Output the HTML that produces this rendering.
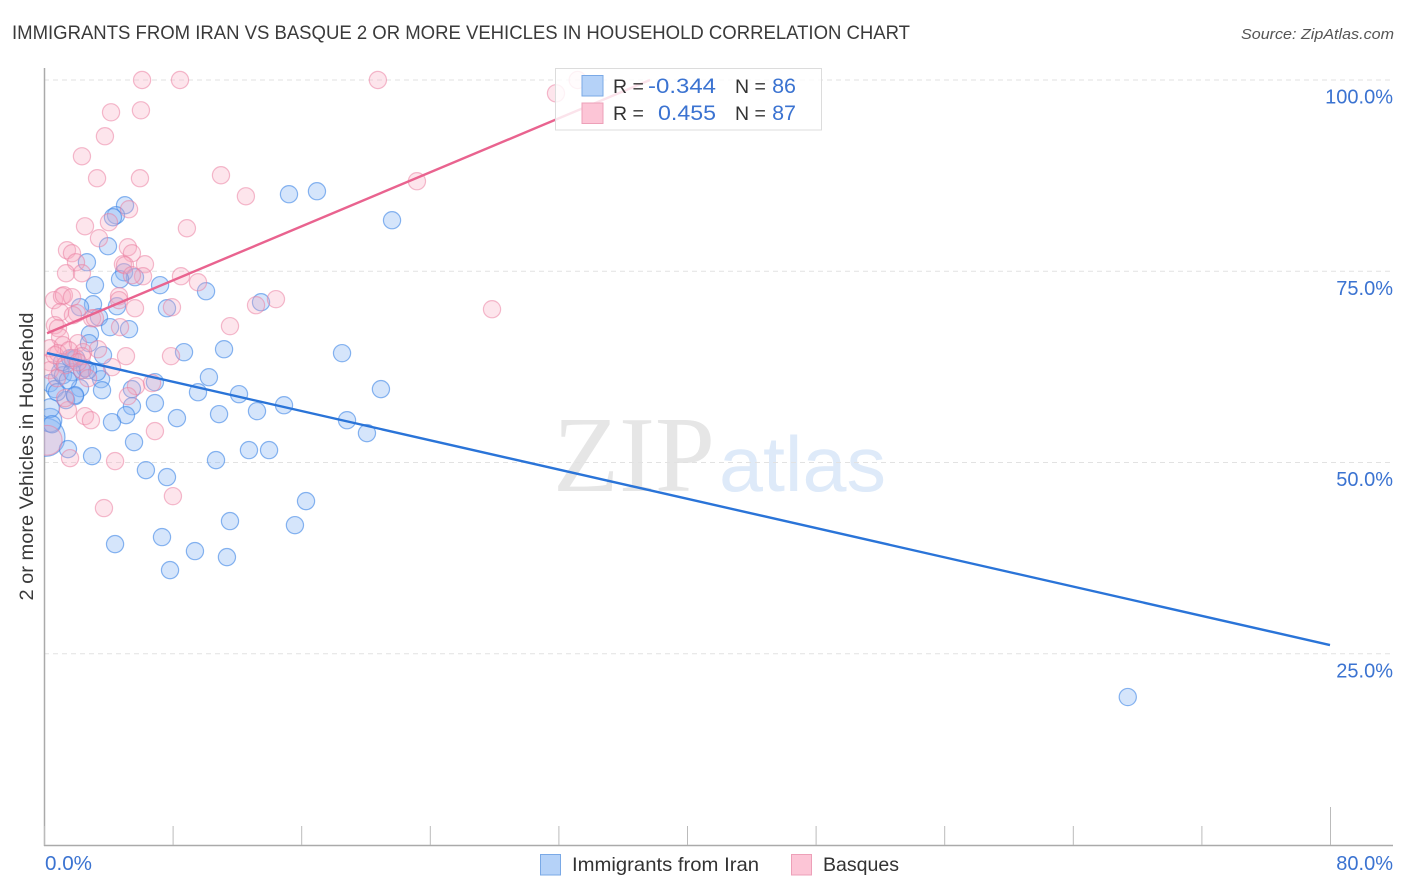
<!DOCTYPE html>
<html lang="en">
<head>
<meta charset="utf-8">
<title>Immigrants from Iran vs Basque 2 or more Vehicles in Household Correlation Chart</title>
<style>
html,body{margin:0;padding:0;background:#fff;}
svg{display:block;font-family:"Liberation Sans",Arial,sans-serif;}
</style>
</head>
<body>
<svg id="chart" xmlns="http://www.w3.org/2000/svg" width="1406" height="892" viewBox="0 0 1406 892">
  <defs><clipPath id="plot-clip"><rect x="44" y="60" width="1350" height="785"/></clipPath></defs>
  <text x="12" y="39" font-size="19.4" fill="#3a3a3a" textLength="898" lengthAdjust="spacingAndGlyphs">IMMIGRANTS FROM IRAN VS BASQUE 2 OR MORE VEHICLES IN HOUSEHOLD CORRELATION CHART</text>
  <text x="1394" y="39" font-size="15" font-style="italic" fill="#555" text-anchor="end" textLength="153" lengthAdjust="spacingAndGlyphs">Source: ZipAtlas.com</text>
  <text x="553" y="491" font-family="'Liberation Serif',serif" font-size="108" fill="#e6e6e6" textLength="162" lengthAdjust="spacingAndGlyphs">ZIP</text>
  <text x="719" y="491" font-size="78" fill="#deeaf9" textLength="167" lengthAdjust="spacingAndGlyphs">atlas</text>
  <g id="grid"></g>
  <g id="axes"></g>
  <g id="points" clip-path="url(#plot-clip)"></g>
  <g id="lines"></g>
  <text transform="translate(33,456.5) rotate(-90)" font-size="19" fill="#3a3a3a" text-anchor="middle" textLength="288" lengthAdjust="spacingAndGlyphs">2 or more Vehicles in Household</text>
  <g>
    <rect x="555.5" y="68.5" width="266" height="61.5" fill="#fff" fill-opacity="0.82" stroke="#dcdcdc"/>
    <rect x="582" y="75.500" width="21" height="20.500" fill="#b5d2f8" stroke="#7aa9e6"/>
    <rect x="582" y="103" width="21" height="20.500" fill="#fcc5d6" stroke="#eda0b8"/>
    <text x="613" y="93" font-size="19.500" fill="#333">R =</text>
    <text x="648" y="93" font-size="21.500" fill="#3b73d1" textLength="68" lengthAdjust="spacingAndGlyphs">-0.344</text>
    <text x="735" y="93" font-size="19.500" fill="#333">N =</text>
    <text x="796" y="93" font-size="21.500" fill="#3b73d1" text-anchor="end">86</text>
    <text x="613" y="120" font-size="19.500" fill="#333">R =</text>
    <text x="658" y="120" font-size="21.500" fill="#3b73d1" textLength="58" lengthAdjust="spacingAndGlyphs">0.455</text>
    <text x="735" y="120" font-size="19.500" fill="#333">N =</text>
    <text x="796" y="120" font-size="21.500" fill="#3b73d1" text-anchor="end">87</text>
  </g>
  <g>
    <rect x="540.500" y="854.500" width="20" height="20.500" fill="#b5d2f8" stroke="#7aa9e6"/>
    <text x="572" y="871" font-size="19.500" fill="#333" textLength="187" lengthAdjust="spacingAndGlyphs">Immigrants from Iran</text>
    <rect x="791.500" y="854.500" width="20" height="20.500" fill="#fcc5d6" stroke="#eda0b8"/>
    <text x="823" y="871" font-size="19.500" fill="#333" textLength="76" lengthAdjust="spacingAndGlyphs">Basques</text>
  </g>
</svg>
<script>
const xTickValues = [0, 8, 16, 24, 32, 40, 48, 56, 64, 72, 80];
const xEndLabels = ["0.0%", "80.0%"];
const yTickValues = [25, 50, 75, 100];
const yTickLabels = ["25.0%", "50.0%", "75.0%", "100.0%"];

const iranX = [0.12,0.37,0.37,0.5,5.04,4.48,4.29,3.98,2.67,3.17,4.98,5.66,4.73,7.22,10.08,3.05,2.24,4.54,7.65,13.5,3.42,4.11,5.29,2.86,2.8,3.67,8.71,11.2,18.54,10.26,9.58,12.13,6.9,5.47,3.55,3.61,6.9,5.47,5.1,4.23,8.27,10.89,13.25,14.93,5.6,2.99,1.49,10.7,12.75,14,6.34,7.65,16.3,11.57,15.61,7.34,4.42,9.39,11.38,7.84,20.96,18.85,20.09,67.42,15.24,16.98,21.65,0.37,0.68,1,1.18,1.8,2.36,2.24,1.93,1.37,1.12,1.99,2.55,0.81,1.74,1.49,3.3,1.62,2.74,1.93];
const iranY = [53.3,55.53,57.1,55,83.63,82.32,82.06,78.27,76.18,73.18,74.87,74.22,73.96,73.18,72.39,70.69,70.3,70.43,70.17,70.95,68.99,67.69,67.43,66.77,65.6,64.03,64.42,64.81,64.29,61.15,59.19,58.93,60.5,59.59,60.89,59.45,57.76,57.36,56.19,55.27,55.8,56.32,56.71,57.49,52.66,50.83,51.75,50.31,51.62,51.62,49,48.09,44.95,42.34,41.81,40.25,39.33,38.42,37.63,35.93,59.59,55.53,53.84,19.34,85.07,85.46,81.67,60.37,59.59,61.81,61.41,63.37,62.07,59.72,58.67,58.15,63.11,63.64,62.33,59.19,61.81,60.76,61.81,63.64,62.07,58.8];
const iranWeight = [4.9, 1.9, 1.2];

const basqueX = [0.2,6.1,8.46,20.77,33.2,31.85,4.17,6.03,3.79,2.36,3.3,5.97,11.01,23.2,12.56,5.29,4.04,2.55,8.89,3.42,1.43,1.74,5.22,5.47,1.99,6.28,4.91,5.04,1.37,2.36,6.16,5.47,8.52,9.58,14.43,0.62,1.12,1.24,1.74,4.67,4.67,5.66,7.96,13.19,27.87,11.57,1,2.05,2.99,3.17,1.8,0.68,0.87,1,0.37,1.18,2.11,3.36,2.43,4.73,5.1,7.9,4.23,2.36,0.37,0.87,0.37,1.8,5.72,5.22,6.72,6.9,2.55,2.92,4.42,1.62,3.73,8.02,1.49,0.68,1.31,2.36,1.55,2.11,1.31,0.81,2.74];
const basqueY = [52.9,100,100,100,100,98.26,95.78,96.04,92.65,90.03,87.16,87.16,87.55,86.77,84.8,83.11,81.41,80.88,80.62,79.32,77.75,77.36,78.14,77.36,76.18,75.92,75.92,75.79,74.74,74.74,74.35,74.48,74.35,73.57,71.35,71.22,71.74,71.87,71.61,71.74,71.22,70.17,70.3,70.56,70.04,67.82,69.65,69.52,68.86,68.86,69.26,67.95,67.56,66.38,64.94,65.34,65.6,64.81,64.42,67.69,63.9,63.9,62.46,62.07,63.11,64.29,62.07,63.64,59.98,58.67,60.37,54.1,56.06,55.53,50.18,50.57,44.04,45.6,56.84,64.03,62.72,63.9,64.68,63.11,58.41,61.02,61.02];
const basqueWeight = [3];

const iranTrendX = [0.19, 80];
const iranTrendY = [64.3, 26.14];
const basqueTrendX = [0.19, 37.7];
const basqueTrendY = [66.9, 100];

const NS = "http://www.w3.org/2000/svg";
const xScale = v => 44 + v * (1286 / 80);
const yScale = v => 845 - v * (765 / 100);
const rScale = w => 8.6 * Math.sqrt(w);

function make(tag, parent, attrs) {
  const el = document.createElementNS(NS, tag);
  for (const k in attrs) el.setAttribute(k, attrs[k]);
  parent.appendChild(el);
  return el;
}

const grid = document.getElementById("grid");
const axes = document.getElementById("axes");
const pointsG = document.getElementById("points");
const linesG = document.getElementById("lines");

yTickValues.forEach((v, i) => {
  const line = make("line", grid, {x1: 44, x2: 1393, y1: yScale(v), y2: yScale(v), stroke: "#e2e2e2", "stroke-dasharray": "5 4"});
  
  
  const label = make("text", axes, {x: 1393, y: yScale(v) + 23.5, "font-size": 20, fill: "#3b73d1", "text-anchor": "end"});
  label.textContent = yTickLabels[i];
  
  
});

const yAxis = make("line", axes, {x1: 44.5, x2: 44.5, y1: 68, y2: 846, stroke: "#aaa", "stroke-width": 1.5});


const xAxis = make("line", axes, {x1: 44, x2: 1393, y1: 845.5, y2: 845.5, stroke: "#aaa", "stroke-width": 1.5});



xTickValues.forEach((v, i) => {
  const isLast = i === xTickValues.length - 1;
  const tick = make("line", axes, {x1: xScale(v) + 0.5, x2: xScale(v) + 0.5, y1: isLast ? 807 : 826, y2: 845, stroke: "#bbb"});
  
  
});

const xLabel0 = make("text", axes, {x: 45, y: 870, "font-size": 20, fill: "#3b73d1", textLength: 47, lengthAdjust: "spacingAndGlyphs"});
xLabel0.textContent = xEndLabels[0];


const xLabel1 = make("text", axes, {x: 1393, y: 870, "font-size": 20, fill: "#3b73d1", "text-anchor": "end"});
xLabel1.textContent = xEndLabels[1];



iranX.forEach((v, i) => {
  const c = make("circle", pointsG, {cx: xScale(v), cy: yScale(iranY[i]), r: rScale(iranWeight[i] ?? 1), fill: "#8ab8f5", "fill-opacity": 0.36, stroke: "#3d85e6", "stroke-opacity": 0.6, "stroke-width": 1.2});
  
  
});
basqueX.forEach((v, i) => {
  const c = make("circle", pointsG, {cx: xScale(v), cy: yScale(basqueY[i]), r: rScale(basqueWeight[i] ?? 1), fill: "#f9a8c0", "fill-opacity": 0.3, stroke: "#ea7c9f", "stroke-opacity": 0.52, "stroke-width": 1.2});
  
  
});

const tBlue = make("line", linesG, {x1: xScale(iranTrendX[0]), y1: yScale(iranTrendY[0]), x2: xScale(iranTrendX[1]), y2: yScale(iranTrendY[1]), stroke: "#2a74d8", "stroke-width": 2.4});


const tPink = make("line", linesG, {x1: xScale(basqueTrendX[0]), y1: yScale(basqueTrendY[0]), x2: xScale(basqueTrendX[1]), y2: yScale(basqueTrendY[1]), stroke: "#e9638f", "stroke-width": 2.4});


</script>
</body>
</html>
